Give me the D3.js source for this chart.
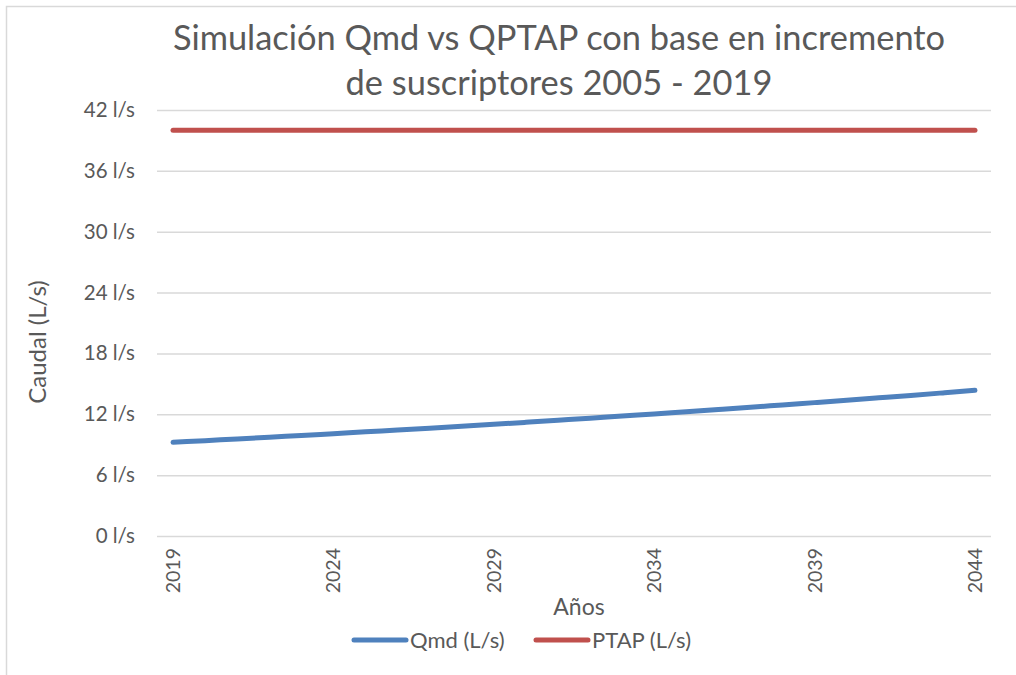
<!DOCTYPE html>
<html><head><meta charset="utf-8">
<script src="https://cdn.jsdelivr.net/npm/d3@7"></script>
<style>body{margin:0;background:#fff;}svg{display:block;font-family:Lato,"Open Sans",sans-serif;}</style>
</head><body><svg id="c" width="1016" height="675"></svg>
<script>
const years = d3.range(2019, 2045);
const qmd = [9.24,9.40,9.57,9.74,9.91,10.09,10.27,10.45,10.63,10.82,11.01,11.21,11.41,11.61,11.82,12.03,12.25,12.47,12.69,12.92,13.15,13.38,13.62,13.86,14.11,14.36];
const ptap = years.map(() => 40);
const yTicks = [0,6,12,18,24,30,36,42];
const xTickYears = [2019,2024,2029,2034,2039,2044];
const titleLines = ["Simulación Qmd vs QPTAP con base en incremento","de suscriptores 2005 - 2019"];
const seriesNames = ["Qmd (L/s)","PTAP (L/s)"];
const colors = ["#4F81BD","#C0504D"];

const svg = d3.select("#c");
const grey = "#595959";
// chart border
svg.append("rect").attr("x",6.5).attr("y",6.5).attr("width",1100).attr("height",1000)
  .attr("fill","none").attr("stroke","#D9D9D9").attr("stroke-width",1.5);

const L=157, R=991, T=110, B=536;
const x = d3.scaleBand().domain(years).range([L,R]);
const xc = d => x(d)+x.bandwidth()/2;
const y = d3.scaleLinear().domain([0,42]).range([B,T]);

// gridlines
const yAxis = d3.axisLeft(y).tickValues(yTicks).tickSize(-(R-L)).tickPadding(22).tickFormat(d=>d+" l/s");
const gy = svg.append("g").attr("transform",`translate(${L},0)`).call(yAxis);
gy.select(".domain").remove();
gy.selectAll(".tick line").attr("stroke","#D9D9D9").attr("stroke-width",1.5);
gy.selectAll(".tick text").attr("fill",grey).attr("font-size",20.5).attr("font-family","Lato");

const xAxis = d3.axisBottom(x).tickValues(xTickYears).tickSize(0).tickPadding(0);
const gx = svg.append("g").attr("transform",`translate(0,${B})`).call(xAxis);
gx.select(".domain").remove();
gx.selectAll(".tick text").attr("fill",grey).attr("font-size",19.5).attr("font-family","Lato")
  .attr("text-anchor","end").attr("dy",0).attr("transform","translate(7,12) rotate(-90)");

const line = d3.line().x((d,i)=>xc(years[i])).y(d=>y(d)).curve(d3.curveMonotoneX);
[qmd, ptap].forEach((s,i)=>{
  svg.append("path").datum(s).attr("d",line).attr("fill","none").attr("stroke",colors[i])
    .attr("stroke-width",5).attr("stroke-linecap","round");
});

// title
svg.append("text").attr("x",560).attr("y",0).attr("text-anchor","middle").attr("fill",grey)
  .attr("font-size",34.4).attr("font-family","Lato")
  .selectAll("tspan").data(titleLines).join("tspan").attr("x",559).attr("y",(d,i)=>50+i*45).text(d=>d);

// axis titles
svg.append("text").attr("transform","translate(46,342) rotate(-90)").attr("text-anchor","middle")
  .attr("fill",grey).attr("font-size",24).attr("font-family","Lato").text("Caudal (L/s)");
svg.append("text").attr("x",579).attr("y",615).attr("text-anchor","middle")
  .attr("fill",grey).attr("font-size",23).attr("font-family","Lato").text("Años");

// legend
const lg = svg.append("g");
const legX = [352,534];
seriesNames.forEach((n,i)=>{
  lg.append("line").attr("x1",legX[i]+2).attr("x2",legX[i]+54).attr("y1",640).attr("y2",640)
    .attr("stroke",colors[i]).attr("stroke-width",5).attr("stroke-linecap","round");
  lg.append("text").attr("x",legX[i]+58).attr("y",647.5).attr("fill",grey).attr("font-size",22)
    .attr("font-family","Lato").text(n);
});
</script></body></html>
